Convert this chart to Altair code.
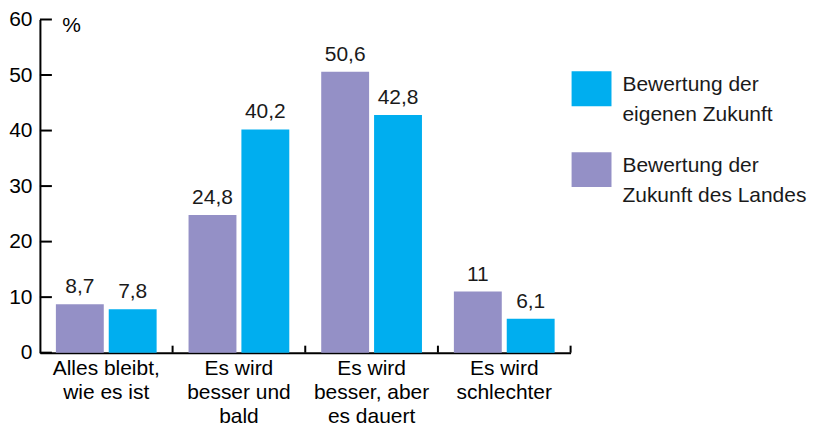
import altair as alt
import pandas as pd

categories = ["Alles bleibt,|wie es ist", "Es wird|besser und|bald",
              "Es wird|besser, aber|es dauert", "Es wird|schlechter"]
series = ["Bewertung der Zukunft des Landes", "Bewertung der eigenen Zukunft"]
land_values = [8.7, 24.8, 50.6, 11]
own_values = [7.8, 40.2, 42.8, 6.1]
colors = ["#9490C6", "#00AEEF"]
y_ticks = [0, 10, 20, 30, 40, 50, 60]
legend_order = [series[1], series[0]]
legend_texts = ["Bewertung der\neigenen Zukunft", "Bewertung der\nZukunft des Landes"]

rows = []
for i, c in enumerate(categories):
    rows.append({"cat": c, "series": series[0], "value": land_values[i]})
    rows.append({"cat": c, "series": series[1], "value": own_values[i]})
df = pd.DataFrame(rows)

FONT = "Liberation Sans, Arial, sans-serif"
FS = 21
W, H = 532, 334

x_axis = alt.Axis(title=None, labelAngle=0, labelExpr="split(datum.label, '|')",
                  labelLineHeight=24, labelFontSize=FS, labelFont=FONT, labelColor="black",
                  ticks=False, tickSize=0, labelPadding=5, domainColor="black",
                  domainWidth=2, labelBaseline="top", labelOverlap=False)
x_scale = alt.Scale(paddingInner=0, paddingOuter=0)

y_enc = alt.Y("value:Q", scale=alt.Scale(domain=[0, 60], nice=False, zero=True),
              axis=alt.Axis(values=y_ticks, title="%", titleAngle=0, titleAlign="left",
                            titleBaseline="middle", titleX=22, titleY=6, titleFontSize=FS,
                            titleFont=FONT, titleFontWeight="normal", titleColor="black",
                            labelFontSize=FS, labelFont=FONT, labelColor="black",
                            ticks=False, tickSize=0, labelPadding=8, domainColor="black",
                            domainWidth=2, grid=False))

color_scale = alt.Scale(domain=series, range=colors)
xo = alt.XOffset("series:N", sort=series,
                 scale=alt.Scale(paddingInner=0.094, paddingOuter=0.302))

base = alt.Chart(df).encode(
    x=alt.X("cat:N", sort=categories, scale=x_scale, axis=x_axis),
    xOffset=xo,
    y=y_enc,
)
bars = base.mark_bar().encode(color=alt.Color("series:N", scale=color_scale, legend=None))
labels = base.transform_calculate(
    label="replace(toString(datum.value), '.', ',')"
).mark_text(baseline="bottom", dy=-7, fontSize=FS, font=FONT, color="#1a1a1a").encode(
    text="label:N")

ytick_df = pd.DataFrame({"value": y_ticks})
yticks = alt.Chart(ytick_df).mark_rule(color="black", strokeWidth=2).encode(
    y=y_enc, x=alt.value(0), x2=alt.value(12))

xtick_df = pd.DataFrame({"cat": categories})
xticks = alt.Chart(xtick_df).mark_rule(color="black", strokeWidth=2).encode(
    x=alt.X("cat:N", sort=categories, scale=x_scale, axis=x_axis, bandPosition=1),
    y=alt.value(H), y2=alt.value(H - 7))

main = alt.layer(bars, labels, yticks, xticks).properties(width=W, height=H)

leg_df = pd.DataFrame({"series": legend_order, "text": legend_texts})
leg_y = alt.Y("series:N", scale=alt.Scale(type="point", padding=0, domain=legend_order,
                                         range=[69.5, 150.5]), axis=None)
sq = alt.Chart(leg_df).mark_point(shape="M-1,-0.875H1V0.875H-1Z", filled=True, opacity=1,
                                  size=1600).encode(
    x=alt.value(20), y=leg_y,
    color=alt.Color("series:N", scale=color_scale, legend=None))
tx = alt.Chart(leg_df).mark_text(align="left", baseline="middle", dy=-4, lineBreak="\n",
                                 lineHeight=30, fontSize=FS, font=FONT, color="#1a1a1a").encode(
    x=alt.value(51), y=leg_y, text="text:N")
legend = alt.layer(sq, tx).properties(width=226, height=H)

chart = alt.hconcat(main, legend, spacing=0).properties(
    padding={"left": 0, "top": 0, "right": 0, "bottom": 0}
).configure_view(stroke=None)

chart.save("out.html", embed_options={"renderer": "svg", "actions": False})
